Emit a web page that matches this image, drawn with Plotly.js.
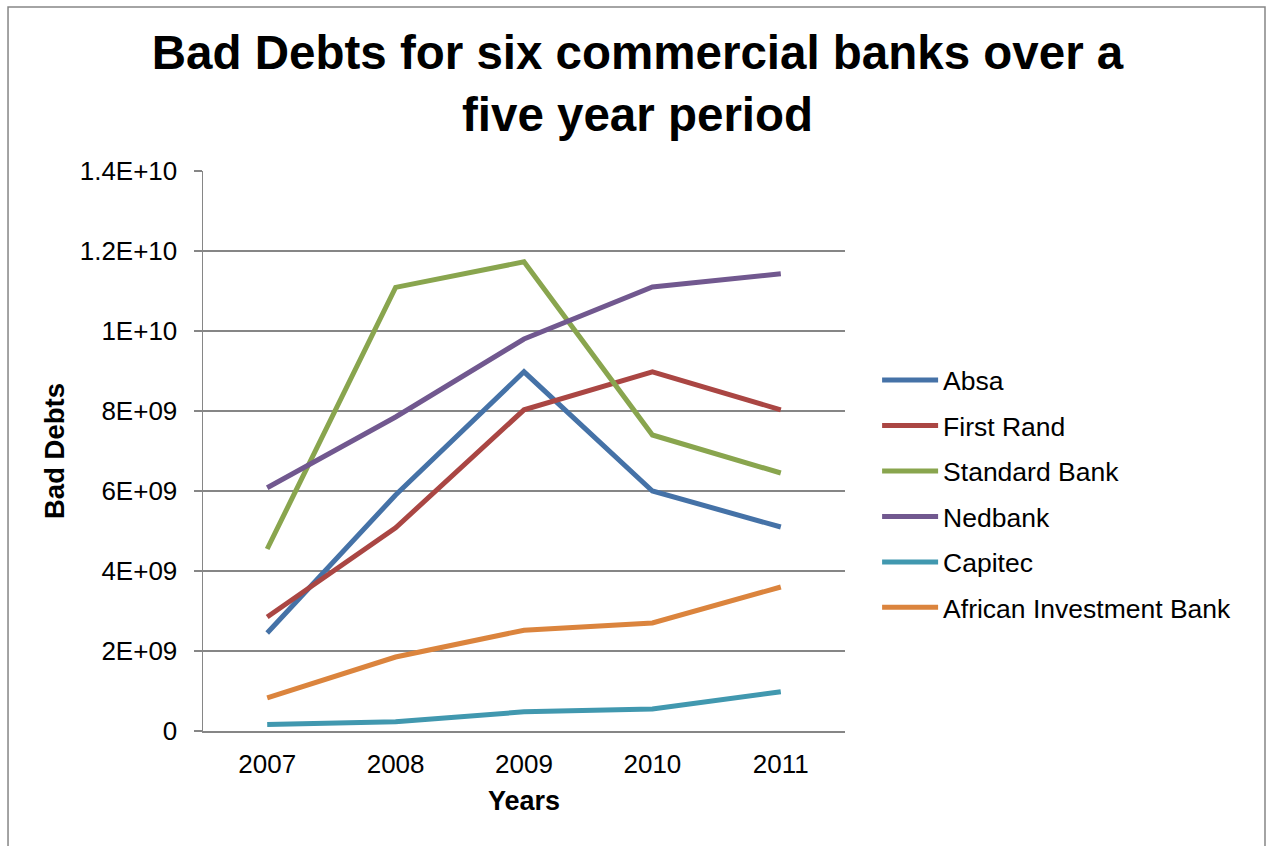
<!DOCTYPE html>
<html>
<head>
<meta charset="utf-8">
<script src="https://cdn.plot.ly/plotly-3.0.1.min.js"></script>
<style>
  html, body { margin: 0; padding: 0; background: #ffffff; }
  #chart { width: 1270px; height: 846px; }
</style>
</head>
<body>
<div id="chart"></div>
<script>
const years = ['2007', '2008', '2009', '2010', '2011'];
const absa = [2.45e9, 5.9e9, 8.98e9, 6.0e9, 5.1e9];
const firstRand = [2.85e9, 5.08e9, 8.03e9, 8.98e9, 8.03e9];
const standardBank = [4.55e9, 11.09e9, 11.73e9, 7.4e9, 6.45e9];
const nedbank = [6.08e9, 7.85e9, 9.8e9, 11.1e9, 11.43e9];
const capitec = [0.16e9, 0.23e9, 0.48e9, 0.55e9, 0.98e9];
const africanInvestment = [0.83e9, 1.85e9, 2.52e9, 2.7e9, 3.6e9];
const seriesNames = ['Absa', 'First Rand', 'Standard Bank', 'Nedbank', 'Capitec', 'African Investment Bank'];
const seriesColors = ['#4572A7', '#AA4643', '#89A54E', '#71588F', '#4198AF', '#DB843D'];
const yTickVals = [0, 2e9, 4e9, 6e9, 8e9, 1e10, 1.2e10, 1.4e10];
const yTickText = ['0', '2E+09', '4E+09', '6E+09', '8E+09', '1E+10', '1.2E+10', '1.4E+10'];

const seriesValues = [absa, firstRand, standardBank, nedbank, capitec, africanInvestment];
const FONT = 'Liberation Sans, Arial, sans-serif';

const traces = seriesValues.map((vals, i) => ({
  x: years,
  y: vals,
  type: 'scatter',
  mode: 'lines',
  name: seriesNames[i],
  legendgroup: 'g' + i,
  line: { color: seriesColors[i], width: 5 }
}));

const layout = {
  width: 1270,
  height: 846,
  paper_bgcolor: '#ffffff',
  plot_bgcolor: '#ffffff',
  margin: { l: 203, r: 425, t: 171, b: 115 },
  font: { family: FONT, color: '#000000' },
  title: {
    text: '<b>Bad Debts for six commercial banks over a<br>five year period</b>',
    font: { family: FONT, size: 47.5, color: '#000000' },
    x: 0.502, xref: 'container', xanchor: 'center',
    y: 0.918, yref: 'container', yanchor: 'top'
  },
  xaxis: {
    type: 'category',
    range: [-0.5, 4.5],
    showline: true,
    linecolor: '#868686',
    linewidth: 1.5,
    ticks: '',
    showgrid: false,
    zeroline: false,
    tickfont: { family: FONT, size: 26, color: '#000000' },
    ticklabelstandoff: 9,
    title: { text: '<b>Years</b>', font: { family: FONT, size: 27, color: '#000000' }, standoff: 13 }
  },
  yaxis: {
    range: [0, 1.4e10],
    tickmode: 'array',
    tickvals: yTickVals,
    ticktext: yTickText,
    showline: true,
    linecolor: '#868686',
    linewidth: 1.5,
    ticks: 'outside',
    ticklen: 8,
    tickcolor: '#868686',
    tickwidth: 1.5,
    showgrid: true,
    gridcolor: '#868686',
    gridwidth: 1.5,
    zeroline: false,
    tickfont: { family: FONT, size: 26, color: '#000000' },
    ticklabelstandoff: 11,
    title: { text: '<b>Bad Debts</b>', font: { family: FONT, size: 27.5, color: '#000000' }, standoff: 7 }
  },
  legend: {
    x: 1.05, xanchor: 'left',
    y: 0.669, yanchor: 'top',
    font: { family: FONT, size: 26.5, color: '#000000' },
    bgcolor: 'rgba(0,0,0,0)',
    tracegroupgap: 8,
    itemwidth: 56
  },
  showlegend: true,
  shapes: [{
    type: 'rect', xref: 'paper', yref: 'paper',
    x0: -0.3037, x1: 1.6542, y0: -0.22, y1: 1.293,
    line: { color: '#868686', width: 1.5 },
    fillcolor: 'rgba(0,0,0,0)',
    layer: 'below'
  }]
};

Plotly.newPlot('chart', traces, layout, { displayModeBar: false, staticPlot: true });
</script>
</body>
</html>
